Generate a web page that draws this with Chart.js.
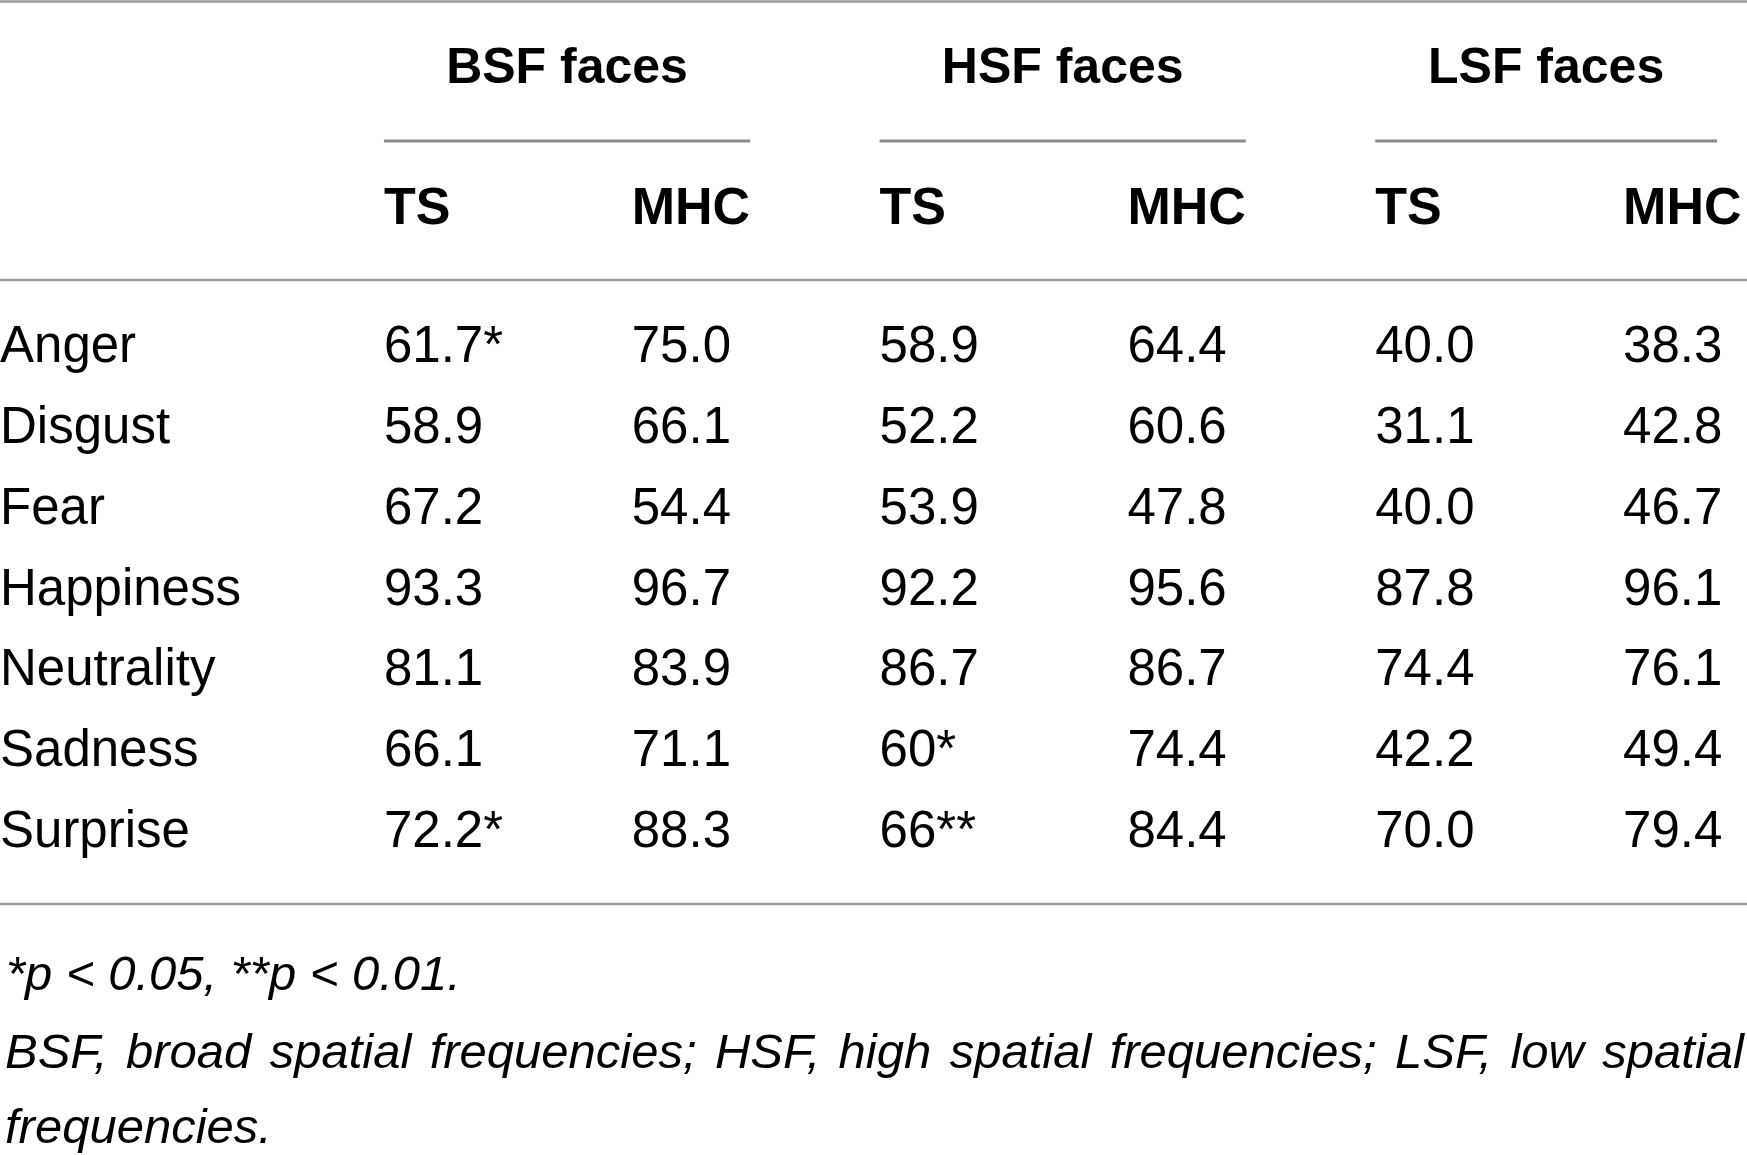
<!DOCTYPE html>
<html>
<head>
<meta charset="utf-8">
<script src="https://cdn.jsdelivr.net/npm/chart.js@4.4.1/dist/chart.umd.min.js"></script>
<style>
  html, body { margin: 0; padding: 0; background: #fff; }
  #wrap { width: 1747px; height: 1155px; }
</style>
</head>
<body>
<div id="wrap"><canvas id="tableChart" width="1747" height="1155"></canvas></div>
<script>
// table content
const emotions = ['Anger', 'Disgust', 'Fear', 'Happiness', 'Neutrality', 'Sadness', 'Surprise'];
const groupHeads = ['BSF faces', 'HSF faces', 'LSF faces'];
const subHeads = ['TS', 'MHC'];
const bsfTS = ['61.7*', '58.9', '67.2', '93.3', '81.1', '66.1', '72.2*'];
const bsfMHC = ['75.0', '66.1', '54.4', '96.7', '83.9', '71.1', '88.3'];
const hsfTS = ['58.9', '52.2', '53.9', '92.2', '86.7', '60*', '66**'];
const hsfMHC = ['64.4', '60.6', '47.8', '95.6', '86.7', '74.4', '84.4'];
const lsfTS = ['40.0', '31.1', '40.0', '87.8', '74.4', '42.2', '70.0'];
const lsfMHC = ['38.3', '42.8', '46.7', '96.1', '76.1', '49.4', '79.4'];
const noteLines = [
    '*p < 0.05, **p < 0.01.',
    'BSF, broad spatial frequencies; HSF, high spatial frequencies; LSF, low spatial',
    'frequencies.'
];

const FAMILY = '"Liberation Sans", Arial, Helvetica, sans-serif';
const RULE = '#9a9a9a';

const columns = [bsfTS, bsfMHC, hsfTS, hsfMHC, lsfTS, lsfMHC];
// unique keys for the category axis, e.g. "BSF faces TS"
const colKeys = groupHeads.flatMap(g => subHeads.map(s => g + ' ' + s));

// Plugin that writes the cell text at the points placed by the scales
const tablePlugin = {
    id: 'tableText',
    afterDatasetsDraw(chart) {
        const ctx = chart.ctx;
        const area = chart.chartArea;
        const xs = chart.scales.x;
        const W = chart.width;

        ctx.save();
        ctx.fillStyle = '#000';

        // cells
        ctx.font = '51px ' + FAMILY;
        ctx.textAlign = 'left';
        ctx.textBaseline = 'middle';
        chart.data.datasets.forEach((ds, di) => {
            chart.getDatasetMeta(di).data.forEach((pt, i) => {
                ctx.fillText(ds.cellText[i], pt.x, pt.y);
            });
        });

        // group headers with their underlines
        ctx.font = 'bold 52px ' + FAMILY;
        const mhcW = ctx.measureText('MHC').width;
        ctx.font = 'bold 50px ' + FAMILY;
        ctx.textAlign = 'center';
        ctx.textBaseline = 'alphabetic';
        groupHeads.forEach((g, gi) => {
            const x0 = xs.getPixelForValue(gi * 2);
            const x1 = Math.min(xs.getPixelForValue(gi * 2 + 1) + mhcW, W - 30);
            ctx.fillText(g, (x0 + x1) / 2, 83);
            ctx.strokeStyle = '#8c8c8c';
            ctx.lineWidth = 3;
            ctx.beginPath();
            ctx.moveTo(x0, 141);
            ctx.lineTo(x1, 141);
            ctx.stroke();
        });

        // horizontal rules
        ctx.strokeStyle = RULE;
        ctx.lineWidth = 2.5;
        [1.5, area.top - 28, area.bottom + 31].forEach(y => {
            ctx.beginPath();
            ctx.moveTo(0, y);
            ctx.lineTo(W, y);
            ctx.stroke();
        });

        // footnotes
        ctx.font = 'italic 49px ' + FAMILY;
        ctx.textAlign = 'left';
        ctx.fillText(noteLines[0], 6, 990);
        // justified line
        const words = noteLines[1].split(' ');
        const widths = words.map(w => ctx.measureText(w).width);
        const total = widths.reduce((a, b) => a + b, 0);
        const gap = (W - 8 - total) / (words.length - 1);
        let cx = 5;
        words.forEach((w, i) => {
            ctx.fillText(w, cx, 1068);
            cx += widths[i] + gap;
        });
        ctx.fillText(noteLines[2], 5, 1143);

        ctx.restore();
    }
};

new Chart(document.getElementById('tableChart'), {
    type: 'scatter',
    data: {
        datasets: columns.map((col, c) => ({
            label: colKeys[c],
            data: col.map((v, r) => ({ x: colKeys[c], y: emotions[r] })),
            cellText: col,
            pointRadius: 0,
            pointHoverRadius: 0
        }))
    },
    options: {
        responsive: false,
        animation: false,
        devicePixelRatio: 1,
        layout: { padding: { top: 0, left: 0, right: 0, bottom: 282 } },
        plugins: {
            legend: { display: false },
            tooltip: { enabled: false }
        },
        scales: {
            x: {
                type: 'category',
                labels: colKeys,
                position: 'top',
                offset: true,
                grid: { display: false, drawTicks: false },
                border: { display: false },
                ticks: {
                    align: 'start',
                    autoSkip: false,
                    maxRotation: 0,
                    minRotation: 0,
                    padding: 67,
                    labelOffset: (c) => (c.index % 2 === 0 ? -7 : 0),
                    color: '#000',
                    font: { family: FAMILY, size: 52, weight: 'bold' },
                    callback: (value) => subHeads[value % 2]
                },
                afterFit(scale) {
                    scale.height = 308;
                    scale.paddingLeft = 0;
                    scale.paddingRight = 0;
                }
            },
            y: {
                type: 'category',
                labels: emotions,
                offset: true,
                grid: { display: false, drawTicks: false },
                border: { display: false },
                ticks: {
                    crossAlign: 'far',
                    autoSkip: false,
                    padding: 0,
                    color: '#000',
                    font: { family: FAMILY, size: 51 }
                },
                afterFit(scale) {
                    scale.width = 260;
                    scale.paddingTop = 0;
                    scale.paddingBottom = 0;
                }
            }
        }
    },
    plugins: [tablePlugin]
});
</script>
</body>
</html>
